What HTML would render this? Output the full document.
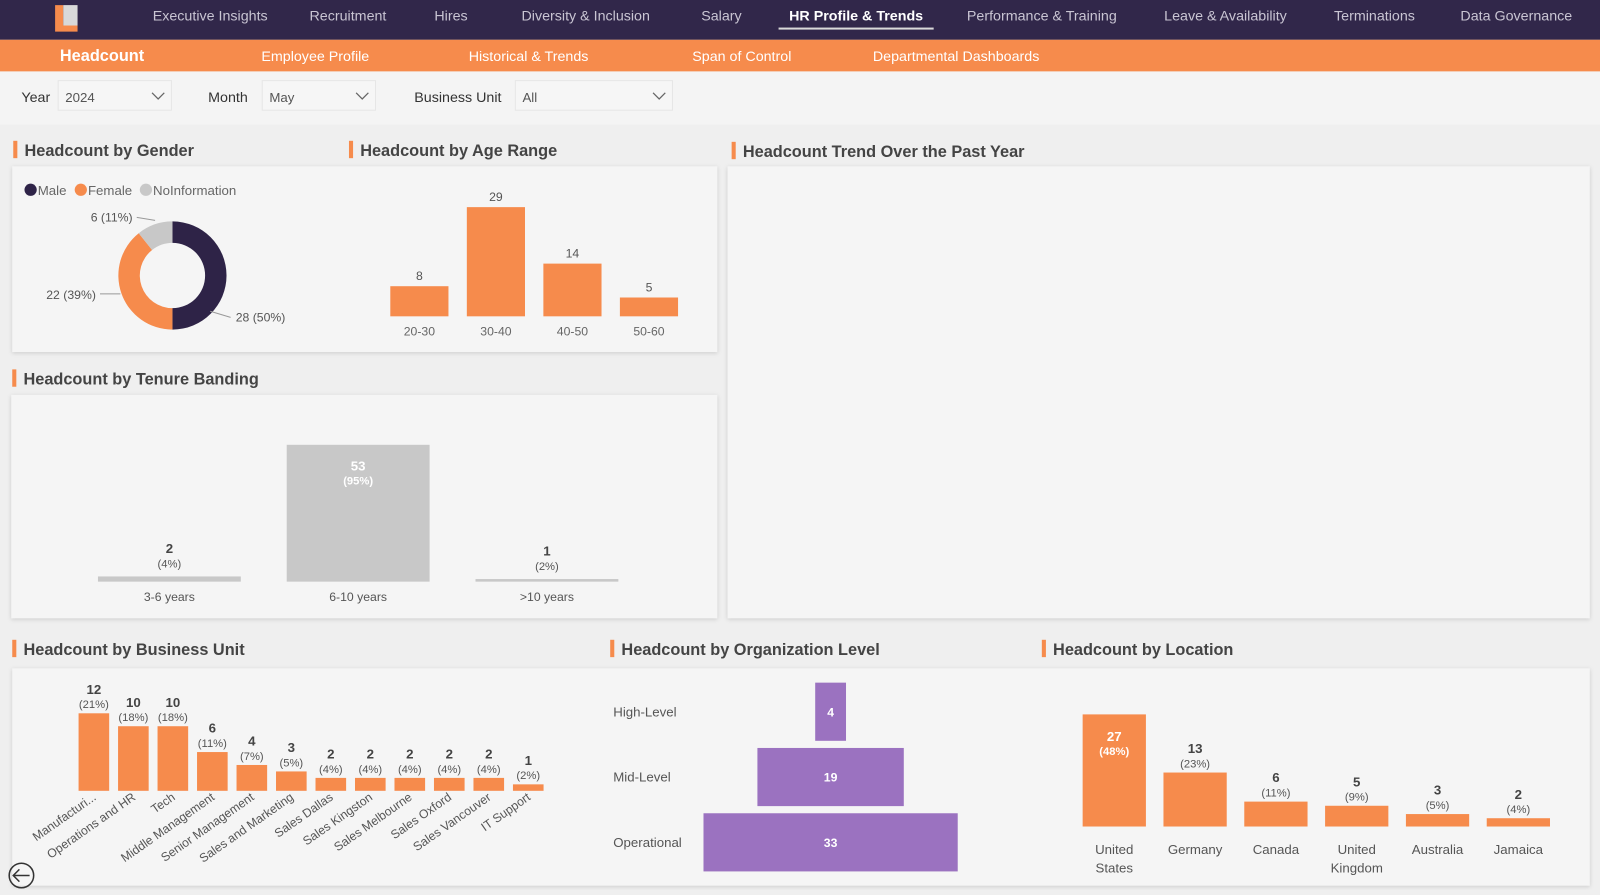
<!DOCTYPE html>
<html><head><meta charset="utf-8"><style>
body{margin:0;width:1600px;height:890px;overflow:hidden;background:#efefef;font-family:"Liberation Sans",sans-serif}
svg text{font-family:"Liberation Sans",sans-serif}
</style></head><body>
<svg id="s" width="1600" height="890" xmlns="http://www.w3.org/2000/svg">
<rect x="0" y="0" width="1600" height="890" fill="#efefef"/>
<g transform="scale(1.0204)">
<rect x="0" y="0" width="1600" height="39" fill="#31274a"/>
<g><path d="M54 5h8v20h14v6H54z" fill="#f68b4c"/><rect x="62" y="5" width="14" height="20" fill="#d9d9d9"/></g>
<g font-size="14" fill="#c9c5d3" id="nav"></g>
<rect x="763" y="27" width="152" height="2" fill="#d9d9d9"/>
<rect x="0" y="39" width="1600" height="31" fill="#f68b4c"/>
<g font-size="14" fill="#fff" id="subnav"></g>
<rect x="0" y="70" width="1600" height="52" fill="#f4f4f4"/>
<g id="filters" font-size="14"></g>
<g id="charts"></g>
</g>
</svg>
<script>
const NS="http://www.w3.org/2000/svg";
function el(tag,attrs,parent,txt){const e=document.createElementNS(NS,tag);for(const k in attrs)e.setAttribute(k,attrs[k]);if(txt!==undefined)e.textContent=txt;parent.appendChild(e);return e;}
const nav=document.getElementById('nav'),sub=document.getElementById('subnav'),fl=document.getElementById('filters'),C=document.getElementById('charts');
const navItems=[["Executive Insights",206],["Recruitment",341],["Hires",442],["Diversity & Inclusion",574],["Salary",707],["HR Profile & Trends",839],["Performance & Training",1021],["Leave & Availability",1201],["Terminations",1347],["Data Governance",1486]];
navItems.forEach(([t,x])=>{const e=el('text',{x:x,y:20,'text-anchor':'middle',fill:t.startsWith('HR')?'#fff':'#c9c5d3','font-weight':t.startsWith('HR')?'bold':'normal'},nav,t);

});
const subItems=[["Headcount",100],["Employee Profile",309],["Historical & Trends",518],["Span of Control",727],["Departmental Dashboards",937]];
subItems.forEach(([t,x])=>{const e=el('text',{x:x,y:60,'text-anchor':'middle','font-weight':t=='Headcount'?'bold':'normal','font-size':t=='Headcount'?16:14},sub,t);

});
[["Year",21,57,"2024",111],["Month",204,257,"May",111],["Business Unit",406,505,"All",154]].forEach(([l,lx,bx,v,w])=>{
 el('text',{x:lx,y:100,fill:'#333'},fl,l);
 const g=el('g',{},fl);
 
 
 el('rect',{x:bx,y:79,width:w,height:29,fill:'#f6f6f6',stroke:'#e6e6e6'},g);
 el('text',{x:bx+7,y:100,'font-size':13,fill:'#555'},g,v);
 el('path',{d:`M${bx+w-19} 91l6 6 6-6`,stroke:'#666',fill:'none','stroke-width':1.2},g);
});
function card(x,y,w,h,name){const r=el('rect',{x:x,y:y,width:w,height:h,fill:'#f5f5f5',style:'filter:drop-shadow(0 1px 2px rgba(0,0,0,0.15))'},C);}
function title(x,y,t){el('rect',{x:x,y:y-15,width:4,height:17,fill:'#f68b4c'},C);const e=el('text',{x:x+11,y:y,'font-size':16,'font-weight':'bold',fill:'#444'},C,t);}
card(12,163,691,182,'gender-age-card');card(713,163,845,443,'trend-card');card(11,387,692,219,'tenure-card');card(12,655,1546,213,'bottom-card');
title(13,153,'Headcount by Gender');title(342,153,'Headcount by Age Range');title(717,154,'Headcount Trend Over the Past Year');title(12,377,'Headcount by Tenure Banding');title(12,642,'Headcount by Business Unit');title(598,642,'Headcount by Organization Level');title(1021,642,'Headcount by Location');

// Gender donut
const genderLabels=["Male","Female","NoInformation"];
const genderValues=[28,22,6];
const genderColors=["#2e2347","#f68b4c","#c8c8c8"];
let lx=23;genderLabels.forEach((l,i)=>{el('circle',{cx:lx+7,cy:186,r:6,fill:genderColors[i]},C);el('text',{x:lx+14,y:191,'font-size':13,fill:'#666'},C,l);lx+=14+l.length*7.3+6;});
const gTot=genderValues.reduce((a,b)=>a+b,0);let ang=-Math.PI/2;const cx=169,cy=270,R=53,r0=32;
const gLbl=[[231,311,'start',[206,305,226,311]],[94,289,'end',[98,288,118,288]],[130,213,'end',[134,213,152,216]]];
genderValues.forEach((v,i)=>{const a2=ang+v/gTot*2*Math.PI;const lg=(a2-ang)>Math.PI?1:0;
 const p=`M${cx+R*Math.cos(ang)} ${cy+R*Math.sin(ang)}A${R} ${R} 0 ${lg} 1 ${cx+R*Math.cos(a2)} ${cy+R*Math.sin(a2)}L${cx+r0*Math.cos(a2)} ${cy+r0*Math.sin(a2)}A${r0} ${r0} 0 ${lg} 0 ${cx+r0*Math.cos(ang)} ${cy+r0*Math.sin(ang)}Z`;
 const s=el('path',{d:p,fill:genderColors[i]},C);
 const L=gLbl[i];el('path',{d:`M${L[3][0]} ${L[3][1]}L${L[3][2]} ${L[3][3]}`,stroke:'#999',fill:'none'},C);
 el('text',{x:L[0],y:L[1]+4,'text-anchor':L[2],'font-size':12,fill:'#555'},C,`${v} (${Math.round(v/gTot*100)}%)`);ang=a2;});

// Age
const ageCats=["20-30","30-40","40-50","50-60"];
const ageVals=[8,29,14,5];
ageCats.forEach((c,i)=>{const x=411+i*75,h=ageVals[i]*3.69;const b=el('rect',{x:x-28.5,y:310-h,width:57,height:h,fill:'#f68b4c'},C);
 el('text',{x:x,y:304-h,'text-anchor':'middle','font-size':12,fill:'#555'},C,ageVals[i]);el('text',{x:x,y:329,'text-anchor':'middle','font-size':12,fill:'#666'},C,c);});

// Tenure
const tenCats=["3-6 years","6-10 years",">10 years"];
const tenVals=[2,53,1];const tenPct=["4%","95%","2%"];
tenCats.forEach((c,i)=>{const x=166+i*185,h=Math.max(tenVals[i]*2.53,2);const b=el('rect',{x:x-70,y:570-h,width:140,height:h,fill:'#c8c8c8'},C);
 const inside=h>40;const ty=inside?570-h+25:570-h-23;const col=inside?'#fff':'#444';
 el('text',{x:x,y:ty,'text-anchor':'middle','font-size':13,'font-weight':'bold',fill:col},C,tenVals[i]);
 el('text',{x:x,y:ty+14,'text-anchor':'middle','font-size':11,fill:inside?'#fff':'#555','font-weight':inside?'bold':'normal'},C,`(${tenPct[i]})`);
 el('text',{x:x,y:589,'text-anchor':'middle','font-size':12,fill:'#555'},C,c);});

// Business unit
const buCats=["Manufacturi...","Operations and HR","Tech","Middle Management","Senior Management","Sales and Marketing","Sales Dallas","Sales Kingston","Sales Melbourne","Sales Oxford","Sales Vancouver","IT Support"];
const buVals=[12,10,10,6,4,3,2,2,2,2,2,1];
const buPct=["21%","18%","18%","11%","7%","5%","4%","4%","4%","4%","4%","2%"];
buCats.forEach((c,i)=>{const x=92+i*38.7,h=buVals[i]*6.33;const b=el('rect',{x:x-15,y:775-h,width:30,height:h,fill:'#f68b4c'},C);
 el('text',{x:x,y:775-h-19,'text-anchor':'middle','font-size':13,'font-weight':'bold',fill:'#444'},C,buVals[i]);
 el('text',{x:x,y:775-h-5,'text-anchor':'middle','font-size':11,fill:'#555'},C,`(${buPct[i]})`);
 el('text',{x:x+3,y:783,'text-anchor':'end','font-size':12,fill:'#555',transform:`rotate(-35 ${x+3} 783)`},C,c);});
const bk=el('g',{},C);
el('circle',{cx:21,cy:858,r:12,fill:'none',stroke:'#333','stroke-width':1.5},bk);el('path',{d:'M29 858H13M19 852l-6 6 6 6',fill:'none',stroke:'#333','stroke-width':1.5},bk);

// Org level
const orgCats=["High-Level","Mid-Level","Operational"];
const orgVals=[4,19,33];
orgCats.forEach((c,i)=>{const y=669+i*64,w=orgVals[i]*7.55;const b=el('rect',{x:814-w/2,y:y,width:w,height:57,fill:'#9b72c0'},C);
 el('text',{x:814,y:y+33,'text-anchor':'middle','font-size':12,'font-weight':'bold',fill:'#fff'},C,orgVals[i]);
 el('text',{x:601,y:y+33,'font-size':13,fill:'#555'},C,c);});

// Location
const locCats=[["United","States"],["Germany"],["Canada"],["United","Kingdom"],["Australia"],["Jamaica"]];
const locVals=[27,13,6,5,3,2];const locPct=["48%","23%","11%","9%","5%","4%"];
locCats.forEach((c,i)=>{const x=1092+i*79.2,h=locVals[i]*4.07;const b=el('rect',{x:x-31,y:810-h,width:62,height:h,fill:'#f68b4c'},C);
 const inside=h>60;const ty=inside?810-h+26:810-h-19;
 el('text',{x:x,y:ty,'text-anchor':'middle','font-size':13,'font-weight':'bold',fill:inside?'#fff':'#444'},C,locVals[i]);
 el('text',{x:x,y:ty+14,'text-anchor':'middle','font-size':11,'font-weight':inside?'bold':'normal',fill:inside?'#fff':'#555'},C,`(${locPct[i]})`);
 c.forEach((l,j)=>el('text',{x:x,y:837+j*18,'text-anchor':'middle','font-size':13,fill:'#555'},C,l));});
</script>
</body></html>
